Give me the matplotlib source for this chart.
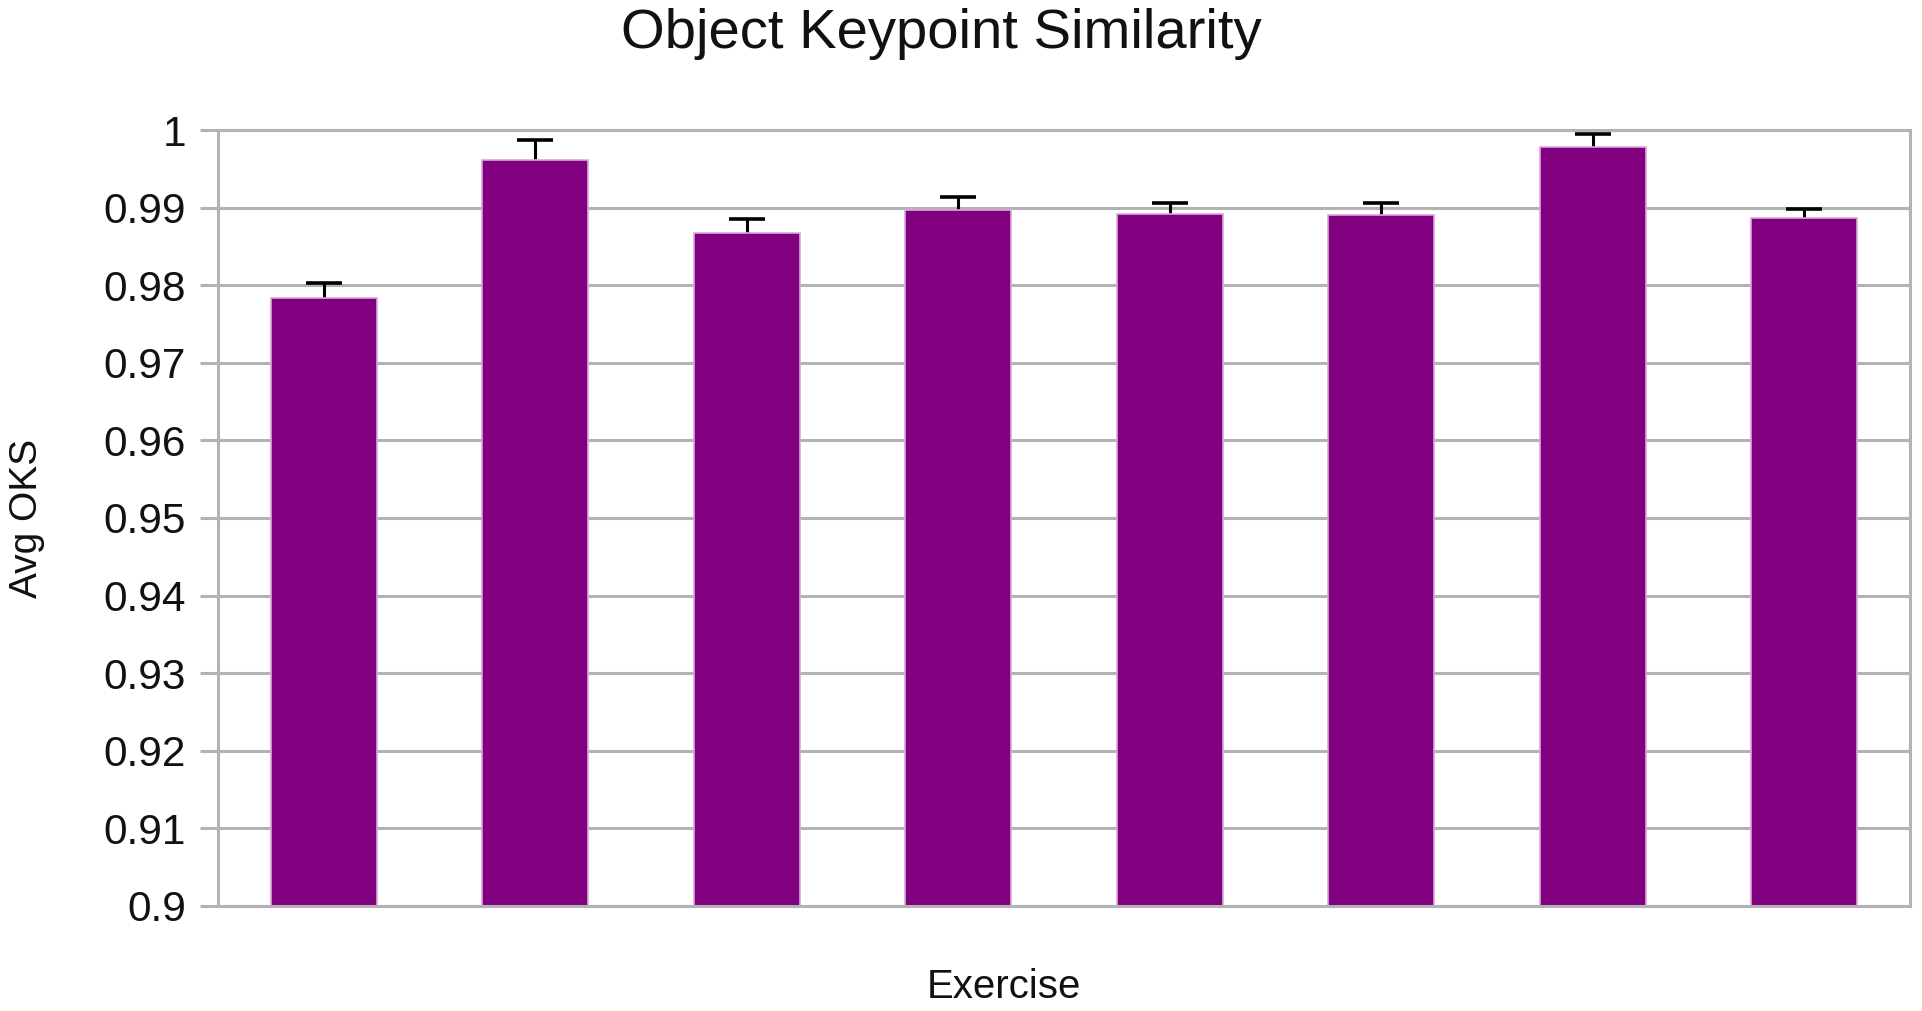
import matplotlib
matplotlib.use("Agg")
import matplotlib.pyplot as plt
import numpy as np

plt.rcParams['font.family'] = ['Liberation Sans', 'DejaVu Sans']

exercises = ["1", "2", "3", "4", "5", "6", "7", "8"]
avg_oks = [0.9783, 0.9962, 0.9867, 0.9897, 0.9892, 0.9890, 0.9978, 0.9886]
oks_err = [0.0020, 0.0025, 0.0018, 0.0017, 0.0014, 0.0016, 0.0017, 0.0012]
y_ticks = [0.9, 0.91, 0.92, 0.93, 0.94, 0.95, 0.96, 0.97, 0.98, 0.99, 1.0]
y_tick_labels = ["0.9", "0.91", "0.92", "0.93", "0.94", "0.95", "0.96", "0.97", "0.98", "0.99", "1"]

fig = plt.figure(figsize=(19.22, 10.11), dpi=100)
ax = fig.add_axes([0.1134, 0.1039, 0.9938 - 0.1134, 0.8714 - 0.1039])

x = np.arange(len(exercises))
# error bars go under the bars so only the upper half shows
ax.errorbar(x, avg_oks, yerr=oks_err, fmt="none",
            ecolor="black", elinewidth=2.2, capsize=13, capthick=2.6, zorder=1.5)
ax.bar(x, avg_oks, width=0.5, color="#800080", edgecolor="#d8a8d8", linewidth=1.2, zorder=2)

ax.set_xlim(-0.5, len(exercises) - 0.5)
ax.set_ylim(0.9, 1.0)
ax.set_yticks(y_ticks)
ax.set_yticklabels(y_tick_labels)
ax.set_xticks([])
ax.yaxis.grid(True, color="#b3b3b3", linewidth=2.2, zorder=0)
ax.set_axisbelow(True)
for s in ax.spines.values():
    s.set_color("#b3b3b3")
    s.set_linewidth(2.2)
ax.tick_params(axis="y", length=13, width=2.2, color="#b3b3b3", pad=10, labelsize=30.5, labelcolor="#111111")

fig.text(941 / 1922, 1 - 34 / 1011, "Object Keypoint Similarity", ha="center", va="center", fontsize=40.5, color="#111111")
fig.text(1004 / 1922, 1 - 987 / 1011, "Exercise", ha="center", va="center", fontsize=29, color="#111111")
fig.text(27 / 1922, 1 - 518 / 1011, "Avg OKS", ha="center", va="center", rotation=90, fontsize=28, color="#111111")

fig.savefig("out.png", dpi=100, facecolor="white")
